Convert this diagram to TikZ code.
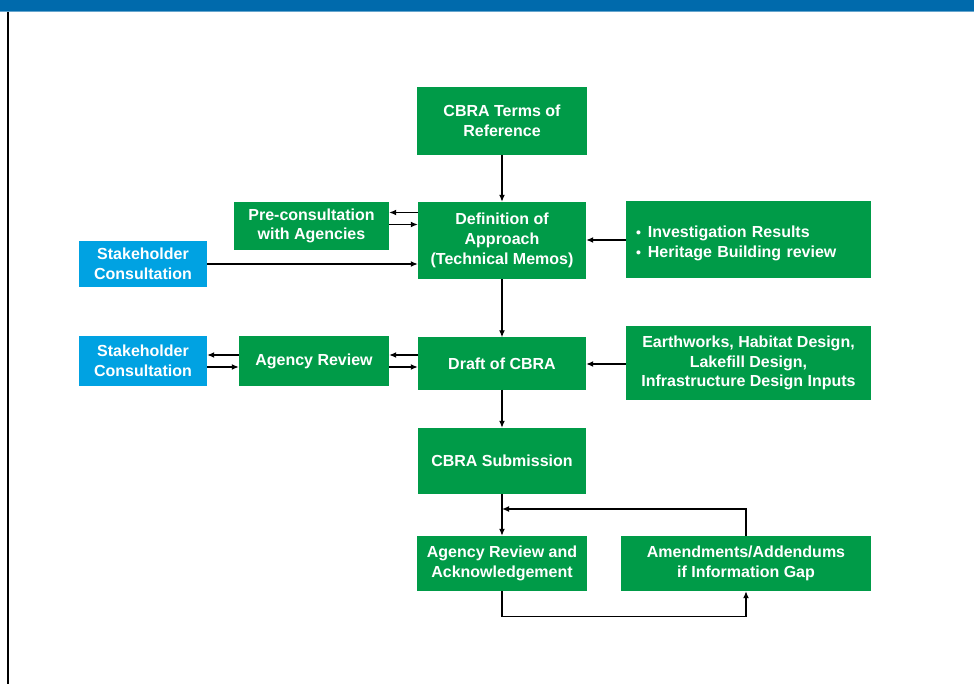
\documentclass[tikz,border=0pt]{standalone}
\usepackage{fontspec}
\setmainfont{Liberation Sans}
\usetikzlibrary{positioning,arrows.meta,calc}
\definecolor{boxgreen}{RGB}{0,155,72}
\definecolor{boxblue}{RGB}{0,162,226}
\definecolor{barblue}{RGB}{0,106,172}
\newcommand{\smallbul}{{\fontsize{14}{14}\selectfont\textbullet}\hspace{7pt}}
\begin{document}
\begin{tikzpicture}[
x=1pt,y=-1pt,
step box/.style={
  draw=none,
  fill=boxgreen,
  text=white,
  font=\bfseries\fontsize{16}{19.8}\selectfont,
  align=center,
  inner sep=0pt
  },
party box/.style={
  step box,
  fill=boxblue
  },
link/.style={
  line width=1.3pt,
  draw=black
  },
>={Latex[length=7pt,width=6pt]}
]
\useasboundingbox (0,0) rectangle (974,684);
\fill[barblue] (0,0) rectangle (974,11);
\draw[barblue!60,line width=1pt] (0,11.5) -- (974,11.5);
\draw[line width=2pt] (8,12) -- (8,684);

\node[step box,minimum width=170,minimum height=68] (terms) at (502,121) {CBRA Terms of\\Reference};
\node[step box,minimum width=168,minimum height=77] (approach) at (502,240.5) {Definition of\\Approach\\(Technical Memos)};
\node[step box,minimum width=155,minimum height=48] (precons) at (311.5,226) {Pre-consultation\\with Agencies};
\node[step box,align=left,text width=225,inner xsep=10pt,minimum height=77] (invest) at (748.5,239.5)
  {\rule{0pt}{19pt}\smallbul Investigation Results\\\smallbul Heritage Building review};
\node[party box,minimum width=128,minimum height=46] (stakeA) at (143,264) {Stakeholder\\Consultation};
\node[party box,minimum width=128,minimum height=50] (stakeB) at (143,361) {Stakeholder\\Consultation};
\node[step box,minimum width=150,minimum height=50] (agrev) at (314,361) {Agency Review};
\node[step box,minimum width=168,minimum height=52] (draft) at (502,363.5) {Draft of CBRA};
\node[step box,minimum width=245,minimum height=74] (inputs) at (748.5,363) {Earthworks, Habitat Design,\\Lakefill Design,\\Infrastructure Design Inputs};
\node[step box,minimum width=168,minimum height=66] (submit) at (502,461) {CBRA Submission};
\node[step box,minimum width=170,minimum height=55] (ack) at (502,563.5) {Agency Review and\\Acknowledgement};
\node[step box,minimum width=250,minimum height=55] (amend) at (746,563.5) {Amendments/Addendums\\if Information Gap};
\coordinate (loopin) at (502,509);

% main line
\draw[link,->] (terms) -- (approach);
\draw[link,->] (approach) -- (draft);
\draw[link,->] (draft) -- (submit);
\draw[link,->] (submit) -- (ack);
% side inputs
\draw[link,->] (approach.west |- 0,212.5) -- (precons.east |- 0,212.5);
\draw[link,->] (precons.east |- 0,224.5) -- (approach.west |- 0,224.5);
\draw[link,->] (stakeA) -- (stakeA -| approach.west);
\draw[link,->] (invest.west |- 0,240) -- (approach.east |- 0,240);
\draw[link,->] (draft.west |- 0,355) -- (agrev.east |- 0,355);
\draw[link,->] (agrev.east |- 0,367) -- (draft.west |- 0,367);
\draw[link,->] (agrev.west |- 0,355) -- (stakeB.east |- 0,355);
\draw[link,->] (stakeB.east |- 0,367) -- (agrev.west |- 0,367);
\draw[link,->] (inputs.west |- 0,364) -- (draft.east |- 0,364);
% review loop
\draw[link,->] (ack.south) -- ++(0,25) -| (amend.south);
\draw[link,->] (amend.north) |- (loopin);
\end{tikzpicture}
\end{document}
